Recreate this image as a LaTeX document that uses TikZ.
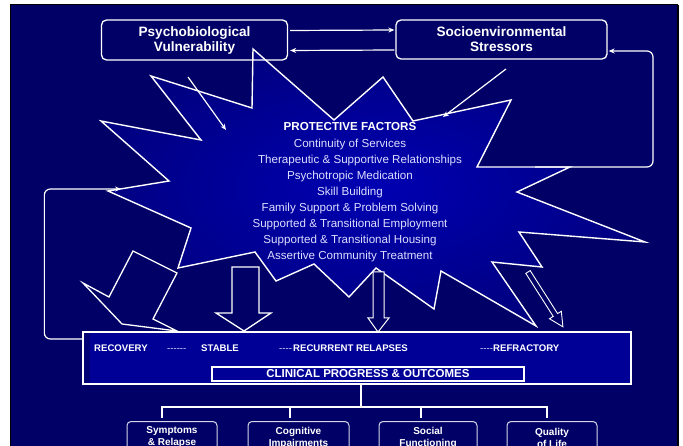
\documentclass[tikz,border=0pt]{standalone}
\usepackage{fontspec}
\setmainfont{Liberation Sans}
\usetikzlibrary{arrows.meta}
\definecolor{bg}{RGB}{0,0,102}
\definecolor{burstin}{RGB}{0,0,178}
\definecolor{burstout}{RGB}{0,0,130}
\definecolor{boxblue}{RGB}{0,0,150}
\definecolor{boxdark}{RGB}{0,0,118}
\definecolor{lav}{RGB}{222,222,255}
\definecolor{lgray}{RGB}{215,215,230}
\begin{document}
\begin{tikzpicture}[x=1pt,y=-1pt,
  arr/.style={draw=white, line width=1.2pt, -{Stealth[length=6pt,width=5pt]}},
  topbox/.style={draw=white, line width=1.3pt, rounded corners=5pt, align=center, text=white,
    font=\bfseries\fontsize{13.6}{15}\selectfont, inner sep=0pt},
  botbox/.style={draw=lgray, line width=1pt, rounded corners=4pt, fill=bg, align=center, text=white,
    font=\bfseries\fontsize{10}{12}\selectfont, inner sep=0pt, minimum height=32pt, anchor=north},
  lab/.style={text=white, font=\bfseries\fontsize{9.6}{11}\selectfont, inner sep=0pt, anchor=base west},
  dsh/.style={text=lav, font=\fontsize{9.6}{11}\selectfont, inner sep=0pt, anchor=base west},
  blockarrow/.style={draw=white, line width=1.3pt, fill=bg, line join=miter}
]
\useasboundingbox (0,0) rectangle (683,446);
\clip (0,0) rectangle (683,446);
\fill[white] (0,0) rectangle (683,446);
\fill[bg] (10,5) rectangle (678,446);
\draw[black, line width=1pt] (10,446) -- (10,5) -- (678,5);
\draw[black, line width=2pt] (678,5) -- (678,446);

% starburst
\shadedraw[draw=white, line width=1.4pt, inner color=burstin, outer color=burstout, line join=miter]
 (253,49) -- (334,120) -- (383,77) -- (413,121) -- (511,100) -- (477,167) -- (570,167) -- (517,192)
 -- (645,242) -- (519,232) -- (542,267) -- (492,262) -- (536,326) -- (441,271) -- (434,309)
 -- (376,268) -- (349,297) -- (314,264) -- (276,281) -- (255,252) -- (178,268) -- (191,228)
 -- (108,191) -- (169,181) -- (101,121) -- (201,140) -- (151,76) -- (252,108) -- cycle;

\node[align=center, text=lav, font=\fontsize{11.6}{16.1}\selectfont, inner sep=0pt] (pf) at (350,192.5)
 {{\color{white}\bfseries PROTECTIVE FACTORS}\\
  Continuity of Services\\
  \hspace*{20pt}Therapeutic \& Supportive Relationships\\
  Psychotropic Medication\\
  Skill Building\\
  Family Support \& Problem Solving\\
  Supported \& Transitional Employment\\
  Supported \& Transitional Housing\\
  Assertive Community Treatment};

% top boxes
\node[topbox, minimum width=186pt, minimum height=40pt] (pv) at (194.5,40) {Psychobiological\\Vulnerability};
\node[topbox, minimum width=211pt, minimum height=39pt] (se) at (501.5,39.5) {Socioenvironmental\\Stressors};
\draw[arr, shorten <=2pt, shorten >=1pt] ([yshift=9.5pt]pv.east) -- ([yshift=9.5pt]se.west);
\draw[arr, shorten <=1pt, shorten >=2pt] ([yshift=-10.5pt]se.west) -- ([yshift=-10.5pt]pv.east);

% arrows into the burst
\coordinate (pva) at (188,77);
\coordinate (pvb) at (226,130);
\coordinate (sea) at (506,69);
\coordinate (seb) at (443,117);
\draw[arr] (pva) -- (pvb);
\draw[arr] (sea) -- (seb);

% main outcome box
\node[draw=white, line width=1.3pt, left color=boxdark, right color=boxblue, middle color=boxblue,
  minimum width=548pt, minimum height=52pt, inner sep=0pt] (main) at (357,358) {};
\fill[boxblue] (90,333) rectangle (630,383);
\node[draw=white, line width=1.3pt, fill=boxblue, minimum width=312pt, minimum height=14pt, inner sep=0pt,
  text=white, font=\bfseries\fontsize{11.5}{12}\selectfont] (cpo) at (368,374) {CLINICAL PROGRESS \& OUTCOMES};
\node[lab] (rec) at (94,351.5) {RECOVERY};
\node[dsh] (d1) at (167,351.5) {-{}-{}-{}-{}-{}-};
\node[lab] (stb) at (201,351.5) {STABLE};
\node[dsh] (d2) at (279,351.5) {-{}-{}-{}-};
\node[lab] (rr) at (293,351.5) {RECURRENT RELAPSES};
\node[dsh] (d3) at (480,351.5) {-{}-{}-{}-};
\node[lab] (rf) at (493,351.5) {REFRACTORY};

% block arrows
\path[blockarrow] (133,251) -- (177,273) -- (153,319) -- (177,331) -- (122,324) -- (83,283) -- (109,297) -- cycle;
\path[blockarrow] (232,267) -- (259,267) -- (259,313) -- (271,313) -- (244,331) -- (216,313) -- (232,313) -- cycle;
\path[draw=white, line width=1pt, fill=bg] (373,272) -- (384,272) -- (384,318) -- (389,318) -- (378,332) -- (368,318) -- (373,318) -- cycle;
\begin{scope}[shift={(528,272)}, rotate=-57.5]
\path[draw=white, line width=0.9pt, fill=bg] (0,-2.6) -- (51,-2.6) -- (51,-7) -- (65,0) -- (51,7) -- (51,2.6) -- (0,2.6) -- cycle;
\end{scope}

% feedback loops
\coordinate (ltip) at (121,189);
\draw[arr, rounded corners=6pt] ([yshift=19pt]main.west) -- ++(-38,0) |- (ltip);
\coordinate (rstart) at (535,167);
\draw[arr, rounded corners=6pt, shorten >=1pt] (rstart) -- (653,167) |- ([yshift=-11.5pt]se.east);

% tree
\node[botbox, minimum width=90pt] (b1) at (172,421) {Symptoms\\\& Relapse};
\node[botbox, minimum width=101pt] (b2) at (298.5,421) {Cognitive\\Impairments};
\node[botbox, minimum width=98pt] (b3) at (428,421) {Social\\Functioning};
\node[botbox, minimum width=90pt] (b4) at (552,421) {Quality\\of Life};
\coordinate (hub) at (361,407);
\coordinate (t1) at (162,418);
\coordinate (t2) at (290,418);
\coordinate (t3) at (421,418);
\coordinate (t4) at (547,418);
\draw[draw=white, line width=1.2pt] ([xshift=4pt]main.south) -- (hub);
\draw[draw=white, line width=1.2pt] (t1) |- (hub) -| (t4);
\draw[draw=white, line width=1.2pt] (t2) -- (t2 |- hub);
\draw[draw=white, line width=1.2pt] (t3) -- (t3 |- hub);
\end{tikzpicture}
\end{document}
